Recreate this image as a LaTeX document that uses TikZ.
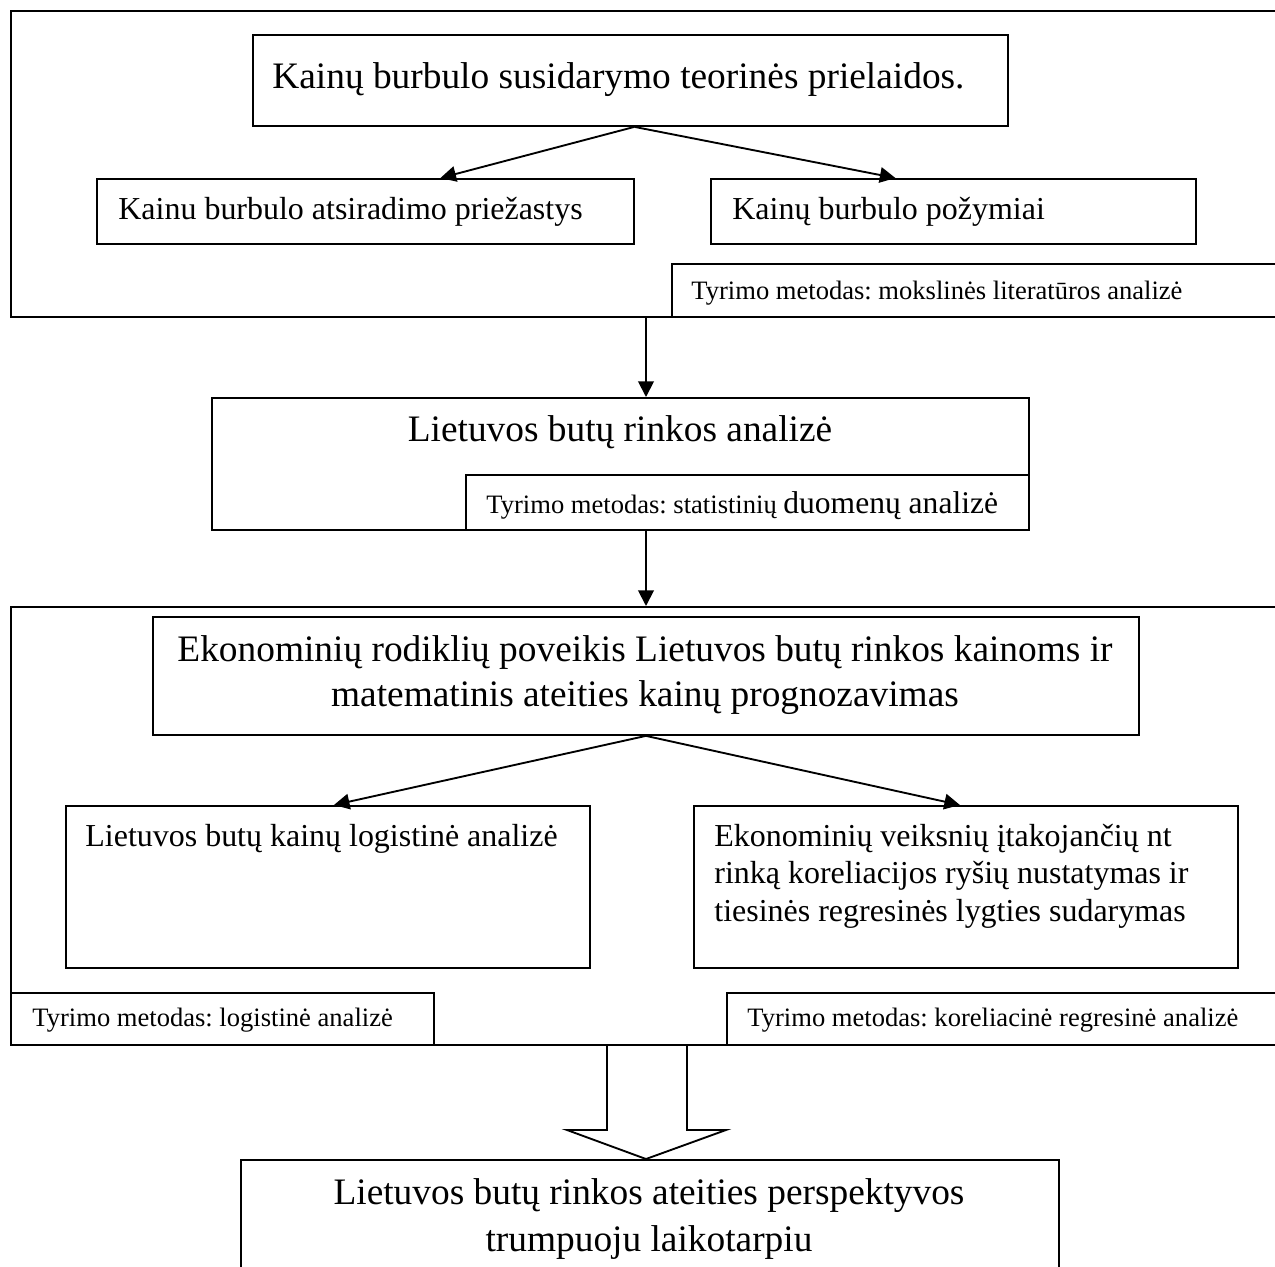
\documentclass[tikz,border=0pt]{standalone}
\usepackage{fontspec}
\setmainfont{Liberation Serif}
\usetikzlibrary{arrows.meta, calc}
\newcommand{\pxl}{0.48bp}
\frenchspacing

\begin{document}
\begin{tikzpicture}[x=0.48bp, y=-0.48bp,
    cell/.style={draw, line width=0.9pt, inner sep=0pt, anchor=north west},
    txt/.style={anchor=west, inner sep=0pt, align=left},
    bigtxt/.style={font=\fontsize{18}{21.6}\selectfont},
    midtxt/.style={font=\fontsize{15.4}{18}\selectfont},
    smalltxt/.style={font=\fontsize{12.8}{15}\selectfont},
    arrow/.style={-{Triangle[length=7.5pt,width=7.5pt]}, line width=0.9pt}
]
\fill[white] (0,0) rectangle (1275,1267);
\useasboundingbox (0,0) rectangle (1275,1267);
\clip (0,0) rectangle (1275,1267);
\coordinate (spine) at (646,0);

% theory block
\node[cell, minimum width=1285*\pxl, minimum height=306*\pxl] (theory) at (10,10) {};
\node[cell, minimum width=755*\pxl, minimum height=91*\pxl] (premise) at (252,34) {};
\node[txt, bigtxt] (premisetxt) at (272,80) {Kainų burbulo susidarymo teorinės prielaidos.};
\node[cell, minimum width=537*\pxl, minimum height=65*\pxl] (causes) at (96,178) {};
\node[txt, midtxt] (causestxt) at (118,212) {Kainu burbulo atsiradimo priežastys};
\node[cell, minimum width=485*\pxl, minimum height=65*\pxl] (signs) at (710,178) {};
\node[txt, midtxt] (signstxt) at (732,212) {Kainų burbulo požymiai};
\node[cell, minimum width=700*\pxl, minimum height=53*\pxl] (litmeth) at (671,263) {};
\node[txt, smalltxt] (litmethtxt) at (691,293) {Tyrimo metodas: mokslinės literatūros analizė};
\draw[arrow] ($(premise.south)+(4,0)$) -- ($(causes.north)+(75,0)$);
\draw[arrow] ($(premise.south)+(4,0)$) -- ($(signs.north)+(-58,0)$);

% market block
\node[cell, minimum width=817*\pxl, minimum height=132*\pxl] (market) at (211,397) {};
\node[bigtxt, inner sep=0pt] (markettxt) at (620,432) {Lietuvos butų rinkos analizė};
\node[cell, minimum width=563*\pxl, minimum height=55*\pxl] (statmeth) at (465,474) {};
\node[txt, smalltxt] (statmethtxt) at (486,506) {Tyrimo metodas: statistinių {\fontsize{15.2}{17}\selectfont duomenų analizė}};
\draw[arrow] (spine |- theory.south) -- (spine |- market.north);

% study block
\node[cell, minimum width=1285*\pxl, minimum height=438*\pxl] (study) at (10,606) {};
\draw[arrow] (spine |- market.south) -- (spine |- study.north);
\node[cell, minimum width=986*\pxl, minimum height=118*\pxl] (impact) at (152,616) {};
\node[bigtxt, inner sep=0pt, align=center] (impacttxt) at (645,675) {Ekonominių rodiklių poveikis Lietuvos butų rinkos kainoms ir\\ matematinis ateities kainų prognozavimas};
\node[cell, minimum width=524*\pxl, minimum height=162*\pxl] (logit) at (65,805) {};
\node[txt, midtxt] (logittxt) at (85,839) {Lietuvos butų kainų logistinė analizė};
\node[cell, minimum width=544*\pxl, minimum height=162*\pxl] (corr) at (693,805) {};
\node[txt, midtxt] (corrtxt) at (714,876) {Ekonominių veiksnių įtakojančių nt\\ rinką koreliacijos ryšių nustatymas ir\\ tiesinės regresinės lygties sudarymas};
\draw[arrow] (impact.south) -- ($(logit.north)+(6,0)$);
\draw[arrow] (impact.south) -- ($(corr.north)+(-6,0)$);
\node[cell, minimum width=423*\pxl, minimum height=52*\pxl] (logmeth) at (10,992) {};
\node[txt, smalltxt] (logmethtxt) at (32,1020) {Tyrimo metodas: logistinė analizė};
\node[cell, minimum width=600*\pxl, minimum height=52*\pxl] (regmeth) at (726,992) {};
\node[txt, smalltxt] (regmethtxt) at (747,1020) {Tyrimo metodas: koreliacinė regresinė analizė};

% outlook
\node[cell, minimum width=818*\pxl, minimum height=200*\pxl] (outlook) at (240,1159) {};
\node[inner sep=0pt, align=center, font=\fontsize{18}{22.5}\selectfont] (outlooktxt) at (649,1219) {Lietuvos butų rinkos ateities perspektyvos\\ trumpuoju laikotarpiu};
\coordinate (tip) at (spine |- outlook.north);
\draw[line width=0.9pt] ($(spine |- study.south)+(-39,0)$) -- ($(tip)+(-39,-29)$) -- ($(tip)+(-79,-29)$) -- (tip)
    -- ($(tip)+(80,-29)$) -- ($(tip)+(41,-29)$) -- ($(spine |- study.south)+(41,0)$);
\end{tikzpicture}
\end{document}
